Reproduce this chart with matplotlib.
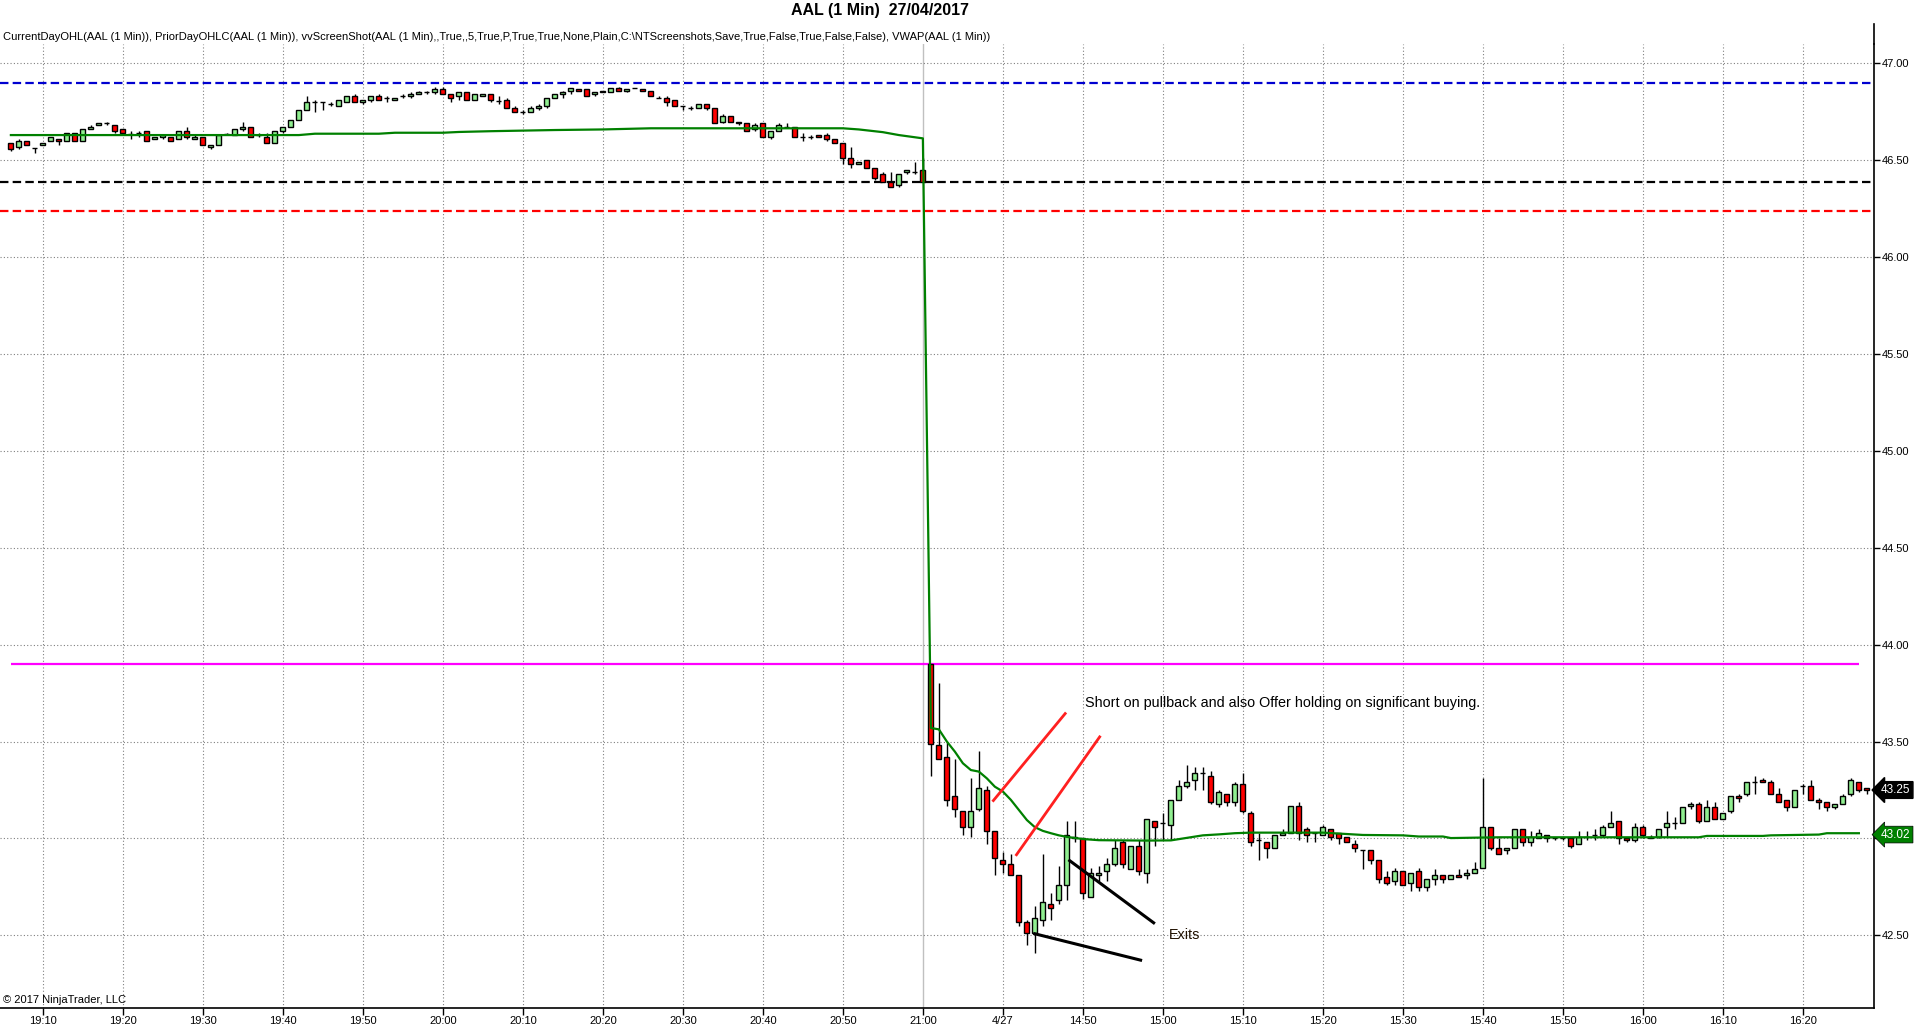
import matplotlib
matplotlib.use("Agg")
import matplotlib.pyplot as plt
from matplotlib.lines import Line2D
import numpy as np

# 1 minute bars: 19:06 .. 21:00 (26/04), then 14:31 .. 16:28 (27/04)
opens = [
    46.59, 46.57, 46.60, 46.565, 46.58, 46.60, 46.61, 46.60, 46.64, 46.60,
    46.66, 46.68, 46.69, 46.68, 46.66, 46.633, 46.64, 46.65, 46.61, 46.62,
    46.62, 46.61, 46.65, 46.61, 46.62, 46.57, 46.58, 46.633, 46.63, 46.66,
    46.67, 46.63, 46.62, 46.59, 46.65, 46.67, 46.71, 46.76, 46.80, 46.80,
    46.79, 46.78, 46.80, 46.83, 46.80, 46.81, 46.83, 46.82, 46.81, 46.83,
    46.83, 46.84, 46.85, 46.85, 46.87, 46.84, 46.83, 46.85, 46.81, 46.83,
    46.84, 46.805, 46.81, 46.77, 46.75, 46.75, 46.77, 46.78, 46.82, 46.84,
    46.86, 46.87, 46.87, 46.84, 46.85, 46.85, 46.875, 46.86, 46.875, 46.87,
    46.86, 46.82, 46.82, 46.81, 46.78, 46.77, 46.77, 46.79, 46.77, 46.70,
    46.73, 46.70, 46.69, 46.66, 46.69, 46.62, 46.65, 46.67, 46.67, 46.62,
    46.62, 46.63, 46.63, 46.61, 46.59, 46.51, 46.48, 46.50, 46.46, 46.43,
    46.39, 46.37, 46.44, 46.44, 46.45,
    43.90, 43.48, 43.42, 43.22, 43.14, 43.06, 43.15, 43.25, 43.04, 42.89,
    42.87, 42.81, 42.57, 42.51, 42.58, 42.66, 42.68, 42.76, 43.01, 43.00,
    42.70, 42.81, 42.83, 42.87, 42.98, 42.84, 42.96, 42.82, 43.09, 43.08,
    43.07, 43.20, 43.27, 43.30, 43.34, 43.32, 43.18, 43.23, 43.19, 43.28,
    43.13, 42.99, 42.98, 42.95, 43.02, 43.03, 43.17, 43.05, 43.03, 43.02,
    43.05, 43.03, 43.01, 42.97, 42.94, 42.94, 42.89, 42.80, 42.78, 42.83,
    42.77, 42.83, 42.75, 42.79, 42.81, 42.79, 42.81, 42.81, 42.82, 42.85,
    43.06, 42.95, 42.94, 42.95, 43.05, 42.98, 43.00, 43.02, 43.00, 43.00,
    43.00, 42.97, 43.01, 43.02, 43.02, 43.06, 43.09, 43.00, 42.99, 43.06,
    43.01, 43.01, 43.06, 43.08, 43.08, 43.17, 43.18, 43.09, 43.16, 43.10,
    43.14, 43.22, 43.23, 43.29, 43.30, 43.29, 43.23, 43.20, 43.16, 43.27,
    43.27, 43.20, 43.19, 43.16, 43.18, 43.23, 43.29, 43.26,
]
highs = [
    46.59, 46.61, 46.60, 46.565, 46.59, 46.62, 46.61, 46.64, 46.64, 46.66,
    46.68, 46.69, 46.70, 46.68, 46.66, 46.65, 46.65, 46.65, 46.62, 46.63,
    46.62, 46.65, 46.67, 46.63, 46.62, 46.58, 46.63, 46.64, 46.66, 46.70,
    46.67, 46.64, 46.64, 46.65, 46.67, 46.71, 46.76, 46.83, 46.81, 46.80,
    46.80, 46.81, 46.83, 46.84, 46.81, 46.83, 46.84, 46.83, 46.82, 46.84,
    46.85, 46.86, 46.86, 46.88, 46.88, 46.84, 46.85, 46.85, 46.84, 46.84,
    46.84, 46.83, 46.82, 46.78, 46.76, 46.78, 46.79, 46.82, 46.84, 46.86,
    46.875, 46.87, 46.87, 46.85, 46.86, 46.875, 46.88, 46.87, 46.875, 46.87,
    46.86, 46.83, 46.83, 46.81, 46.78, 46.78, 46.79, 46.79, 46.77, 46.74,
    46.73, 46.70, 46.69, 46.69, 46.69, 46.65, 46.69, 46.69, 46.67, 46.64,
    46.63, 46.63, 46.64, 46.61, 46.59, 46.57, 46.49, 46.50, 46.46, 46.44,
    46.44, 46.43, 46.45, 46.49, 46.51,
    43.90, 43.80, 43.50, 43.41, 43.14, 43.31, 43.45, 43.27, 43.04, 42.93,
    42.92, 42.81, 42.58, 42.65, 42.92, 42.72, 42.86, 43.09, 43.09, 43.00,
    42.85, 42.86, 42.90, 42.99, 42.99, 42.96, 42.99, 43.10, 43.09, 43.13,
    43.20, 43.30, 43.38, 43.37, 43.37, 43.35, 43.25, 43.23, 43.29, 43.34,
    43.14, 43.03, 42.98, 43.02, 43.05, 43.17, 43.19, 43.06, 43.03, 43.07,
    43.05, 43.03, 43.01, 42.99, 42.94, 42.94, 42.89, 42.83, 42.85, 42.83,
    42.82, 42.85, 42.79, 42.84, 42.81, 42.81, 42.84, 42.84, 42.88, 43.31,
    43.06, 43.00, 42.95, 43.05, 43.05, 43.04, 43.05, 43.02, 43.01, 43.01,
    43.00, 43.04, 43.04, 43.05, 43.07, 43.14, 43.09, 43.00, 43.08, 43.07,
    43.02, 43.05, 43.14, 43.11, 43.16, 43.19, 43.19, 43.20, 43.19, 43.13,
    43.22, 43.23, 43.29, 43.32, 43.31, 43.30, 43.26, 43.20, 43.25, 43.28,
    43.30, 43.21, 43.19, 43.18, 43.23, 43.31, 43.29, 43.26,
]
lows = [
    46.55, 46.56, 46.58, 46.54, 46.58, 46.60, 46.58, 46.60, 46.60, 46.60,
    46.66, 46.68, 46.68, 46.64, 46.63, 46.61, 46.62, 46.60, 46.61, 46.61,
    46.60, 46.61, 46.61, 46.61, 46.58, 46.56, 46.58, 46.633, 46.63, 46.65,
    46.62, 46.62, 46.59, 46.59, 46.64, 46.67, 46.71, 46.76, 46.75, 46.76,
    46.78, 46.78, 46.80, 46.80, 46.79, 46.80, 46.81, 46.80, 46.81, 46.82,
    46.82, 46.84, 46.84, 46.84, 46.84, 46.80, 46.81, 46.81, 46.81, 46.83,
    46.80, 46.79, 46.77, 46.75, 46.74, 46.75, 46.76, 46.77, 46.82, 46.82,
    46.84, 46.86, 46.83, 46.83, 46.85, 46.85, 46.86, 46.85, 46.875, 46.86,
    46.83, 46.82, 46.78, 46.78, 46.76, 46.76, 46.77, 46.76, 46.69, 46.69,
    46.70, 46.68, 46.65, 46.65, 46.62, 46.61, 46.65, 46.67, 46.62, 46.60,
    46.61, 46.62, 46.60, 46.59, 46.48, 46.46, 46.48, 46.46, 46.40, 46.39,
    46.36, 46.36, 46.43, 46.43, 46.39,
    43.32, 43.41, 43.17, 43.11, 43.02, 43.01, 43.14, 42.97, 42.81, 42.82,
    42.81, 42.55, 42.45, 42.41, 42.55, 42.58, 42.66, 42.68, 42.98, 42.69,
    42.70, 42.78, 42.78, 42.86, 42.85, 42.84, 42.81, 42.77, 42.96, 42.99,
    42.99, 43.20, 43.26, 43.25, 43.25, 43.18, 43.16, 43.17, 43.17, 43.13,
    42.96, 42.89, 42.90, 42.95, 43.02, 43.03, 42.99, 42.98, 42.98, 43.02,
    42.99, 42.97, 42.98, 42.93, 42.84, 42.87, 42.77, 42.76, 42.76, 42.76,
    42.73, 42.73, 42.73, 42.76, 42.77, 42.79, 42.80, 42.79, 42.82, 42.85,
    42.94, 42.92, 42.92, 42.95, 42.96, 42.96, 43.00, 42.98, 42.99, 42.99,
    42.95, 42.97, 42.99, 42.99, 43.01, 43.06, 42.97, 42.98, 42.98, 43.00,
    43.00, 43.00, 43.01, 43.05, 43.08, 43.15, 43.08, 43.09, 43.10, 43.10,
    43.13, 43.19, 43.22, 43.23, 43.29, 43.23, 43.19, 43.14, 43.16, 43.23,
    43.20, 43.15, 43.14, 43.15, 43.18, 43.22, 43.24, 43.23,
]
closes = [
    46.56, 46.60, 46.58, 46.565, 46.59, 46.62, 46.60, 46.64, 46.60, 46.66,
    46.67, 46.69, 46.69, 46.65, 46.64, 46.633, 46.64, 46.60, 46.62, 46.63,
    46.60, 46.65, 46.62, 46.62, 46.58, 46.58, 46.63, 46.633, 46.66, 46.67,
    46.62, 46.63, 46.59, 46.65, 46.67, 46.71, 46.76, 46.80, 46.80, 46.80,
    46.79, 46.81, 46.83, 46.80, 46.81, 46.83, 46.81, 46.82, 46.82, 46.83,
    46.84, 46.85, 46.85, 46.87, 46.84, 46.82, 46.85, 46.81, 46.84, 46.84,
    46.81, 46.805, 46.77, 46.75, 46.75, 46.77, 46.78, 46.82, 46.84, 46.85,
    46.875, 46.86, 46.83, 46.85, 46.86, 46.875, 46.86, 46.87, 46.875, 46.86,
    46.83, 46.82, 46.80, 46.78, 46.78, 46.77, 46.79, 46.77, 46.69, 46.73,
    46.70, 46.69, 46.65, 46.68, 46.62, 46.65, 46.68, 46.67, 46.62, 46.62,
    46.62, 46.62, 46.61, 46.59, 46.51, 46.48, 46.49, 46.46, 46.41, 46.39,
    46.36, 46.43, 46.45, 46.44, 46.39,
    43.49, 43.41, 43.20, 43.15, 43.06, 43.14, 43.26, 43.04, 42.90, 42.87,
    42.81, 42.57, 42.51, 42.59, 42.67, 42.64, 42.76, 43.02, 43.00, 42.72,
    42.82, 42.82, 42.87, 42.95, 42.87, 42.96, 42.83, 43.10, 43.06, 43.08,
    43.20, 43.27, 43.29, 43.34, 43.34, 43.19, 43.24, 43.19, 43.28, 43.14,
    42.98, 42.99, 42.95, 43.02, 43.03, 43.17, 43.03, 43.02, 43.03, 43.06,
    43.01, 43.00, 42.98, 42.95, 42.94, 42.89, 42.79, 42.77, 42.83, 42.76,
    42.82, 42.75, 42.79, 42.81, 42.79, 42.81, 42.80, 42.82, 42.84, 43.06,
    42.95, 42.92, 42.95, 43.05, 42.98, 43.01, 43.03, 43.00, 43.00, 43.00,
    42.96, 43.01, 43.01, 43.02, 43.06, 43.08, 43.00, 42.99, 43.06, 43.02,
    43.00, 43.05, 43.08, 43.08, 43.16, 43.18, 43.09, 43.16, 43.10, 43.13,
    43.22, 43.21, 43.29, 43.29, 43.29, 43.23, 43.19, 43.16, 43.25, 43.27,
    43.20, 43.19, 43.16, 43.18, 43.22, 43.30, 43.25, 43.25,
]

# VWAP read at a few bars (bar number, value)
vwap_bar = [0, 36, 38, 46, 48, 54, 56, 60, 68, 74, 80, 104, 106, 109, 111, 114,
            115, 116, 117, 118, 119, 120, 121, 122, 123, 124, 125, 126, 127, 128,
            129, 130, 131, 132, 134, 136, 142, 145, 147, 149, 151, 153, 155, 164,
            169, 174, 176, 179, 180, 186, 211, 212, 219, 220, 226, 227, 231]
vwap_val = [46.630, 46.630, 46.637, 46.637, 46.642, 46.642, 46.646, 46.650, 46.656,
            46.659, 46.665, 46.665, 46.659, 46.645, 46.630, 46.613,
            43.570, 43.563, 43.500, 43.448, 43.388, 43.353, 43.345, 43.310, 43.267,
            43.242, 43.199, 43.147, 43.095, 43.058, 43.039, 43.027, 43.016, 43.008,
            42.997, 42.991, 42.989, 42.990, 43.003, 43.016, 43.021, 43.027, 43.030,
            43.030, 43.018, 43.016, 43.010, 43.010, 43.002, 43.006, 43.006, 43.013,
            43.013, 43.016, 43.020, 43.027, 43.027]

prior_high = 46.90
prior_close = 46.39
prior_low = 46.24
day_open = 43.90
last_price = 43.25
vwap_last = 43.02

# hand drawn marks (bar number, price)
red_marks = [((122.7, 43.19), (131.9, 43.65)), ((125.6, 42.91), (136.2, 43.53))]
black_marks = [((132.2, 42.89), (143.0, 42.56)), ((127.8, 42.51), (141.4, 42.37))]
note_short = (134.3, 43.70, "Short on pullback and also Offer holding on significant buying.")
note_exits = (144.8, 42.50, "Exits")

# bar time labels
times = []
for m in range(19 * 60 + 6, 21 * 60 + 1):
    times.append((m // 60, m % 60, "26/04"))
for m in range(14 * 60 + 31, 16 * 60 + 29):
    times.append((m // 60, m % 60, "27/04"))

tick_pos = []
tick_labels = []
new_day_done = False
for i, (hh, mm, day) in enumerate(times):
    if mm % 10 == 0:
        tick_pos.append(i)
        if day == "27/04" and not new_day_done:
            tick_labels.append("4/27")
            new_day_done = True
        else:
            tick_labels.append(f"{hh}:{mm:02d}")
session_break = [i for i, t in enumerate(times) if t[:2] == (21, 0)][0]

o = np.array(opens)
h = np.array(highs)
l = np.array(lows)
c = np.array(closes)
x = np.arange(len(o))

plt.rcParams['font.family'] = ['Liberation Sans', 'DejaVu Sans']

fig = plt.figure(figsize=(19.2, 10.34), dpi=100)
ax = fig.add_axes([0.0, 0.02515, 0.97583, 0.9323])

# grid
for p in tick_pos:
    if p == session_break:
        ax.axvline(p, color='#c0c0c0', lw=1.0, zorder=0)
    else:
        ax.axvline(p, color='#808080', lw=0.8, ls=(0, (1, 2)), zorder=0)
y_ticks = np.arange(42.5, 47.01, 0.5)
for yv in y_ticks:
    ax.axhline(yv, color='#808080', lw=0.8, ls=(0, (1, 2)), zorder=0)

# prior day levels and current day open
ax.axhline(prior_high, color='#0000d0', lw=1.6, ls=(0, (3.8, 1.9)), zorder=1)
ax.axhline(prior_close, color='black', lw=1.6, ls=(0, (3.8, 1.9)), zorder=1)
ax.axhline(prior_low, color='#ff0000', lw=1.6, ls=(0, (3.8, 1.9)), zorder=1)
ax.hlines(day_open, x[0], x[-2], color='#ff00ff', lw=1.6, zorder=1)

# candles
body_col = np.where(c >= o, '#90ee90', '#ff0000')
ax.vlines(x, l, h, color='black', lw=1.0, zorder=2)
ax.bar(x, np.abs(c - o), bottom=np.minimum(o, c), width=0.6, color=body_col,
       edgecolor='black', linewidth=1.0, zorder=3)

# vwap
ax.plot(vwap_bar, vwap_val, color='#008000', lw=1.6, zorder=4)

# drawing tools
for (x0, y0), (x1, y1) in red_marks:
    ax.plot([x0, x1], [y0, y1], color='#ff2020', lw=2.0, zorder=5, solid_capstyle='butt')
for (x0, y0), (x1, y1) in black_marks:
    ax.plot([x0, x1], [y0, y1], color='black', lw=2.2, zorder=5, solid_capstyle='butt')
ax.text(note_short[0], note_short[1], note_short[2], fontsize=10.4, ha='left', va='center', zorder=6)
ax.text(note_exits[0], note_exits[1], note_exits[2], fontsize=10.4, ha='left', va='center',
        color='#201000', zorder=6)

ax.set_xlim(-1.36, 232.84)
ax.set_ylim(42.125, 47.10)

ax.set_xticks(tick_pos)
ax.set_xticklabels(tick_labels, fontsize=8)
ax.yaxis.tick_right()
ax.set_yticks(y_ticks)
ax.set_yticklabels([f"{v:.2f}" for v in y_ticks], fontsize=8)
ax.tick_params(axis='x', length=5, pad=1, width=1)
ax.tick_params(axis='y', length=4, pad=2, width=1)
for side in ['top', 'left']:
    ax.spines[side].set_visible(False)
for side in ['right', 'bottom']:
    ax.spines[side].set_linewidth(1.2)
    ax.spines[side].set_color('black')

# right axis line carries on above the panel
fig.add_artist(Line2D([0.97583, 0.97583], [0.95745, 0.977], color='black', lw=1.2))

# price markers on the axis
ytr = ax.get_yaxis_transform()
ax.text(1.004, last_price, f"{last_price:.2f}", transform=ytr, color='white', fontsize=8.5,
        ha='left', va='center', clip_on=False, zorder=10,
        bbox=dict(boxstyle='larrow,pad=0.2', fc='black', ec='black'))
ax.text(1.004, vwap_last, f"{vwap_last:.2f}", transform=ytr, color='white', fontsize=8.5,
        ha='left', va='center', clip_on=False, zorder=10,
        bbox=dict(boxstyle='larrow,pad=0.2', fc='#008000', ec='black', lw=0.5))

fig.text(0.4583, 0.9903, "AAL (1 Min)  27/04/2017", fontsize=11.5,
         weight='bold', ha='center', va='center')
fig.text(0.0015, 0.9647,
         r"CurrentDayOHL(AAL (1 Min)), PriorDayOHLC(AAL (1 Min)), vvScreenShot(AAL (1 Min),,True,,5,True,P,True,True,None,Plain,C:\NTScreenshots,Save,True,False,True,False,False), VWAP(AAL (1 Min))",
         fontsize=8, ha='left', va='center')
fig.text(0.0015, 0.033, "\u00a9 2017 NinjaTrader, LLC", fontsize=8,
         ha='left', va='center')

fig.savefig("out.png", dpi=100, facecolor='white')
